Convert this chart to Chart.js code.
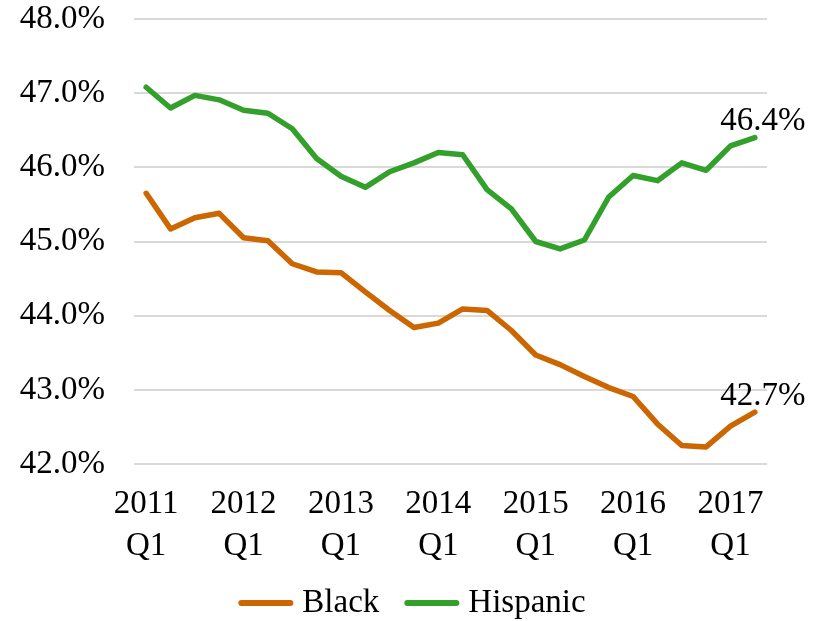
<!DOCTYPE html>
<html lang="en">
<head>
  <meta charset="UTF-8">
  <title>Black and Hispanic share, 2011-2017</title>
  <script src="https://cdn.jsdelivr.net/npm/chart.js"></script>
  <style>
    html, body { margin: 0; padding: 0; background: #ffffff; }
    .chart-box { width: 821px; height: 621px; }
  </style>
</head>
<body>
  <div class="chart-box">
    <canvas id="shareChart"></canvas>
  </div>

  <script>
    // quarterly series, 2011 Q1 through 2017 Q2
    const quarters = [
      '2011 Q1', '2011 Q2', '2011 Q3', '2011 Q4',
      '2012 Q1', '2012 Q2', '2012 Q3', '2012 Q4',
      '2013 Q1', '2013 Q2', '2013 Q3', '2013 Q4',
      '2014 Q1', '2014 Q2', '2014 Q3', '2014 Q4',
      '2015 Q1', '2015 Q2', '2015 Q3', '2015 Q4',
      '2016 Q1', '2016 Q2', '2016 Q3', '2016 Q4',
      '2017 Q1', '2017 Q2'
    ];
    const black = [
      45.65, 45.17, 45.32, 45.38, 45.05, 45.01, 44.70, 44.59, 44.58, 44.32,
      44.07, 43.84, 43.90, 44.09, 44.07, 43.80, 43.47, 43.34, 43.18, 43.03,
      42.91, 42.54, 42.25, 42.23, 42.51, 42.7
    ];
    const hispanic = [
      47.08, 46.80, 46.97, 46.91, 46.77, 46.73, 46.52, 46.12, 45.88, 45.73,
      45.94, 46.06, 46.20, 46.17, 45.70, 45.44, 45.00, 44.90, 45.02, 45.60,
      45.89, 45.82, 46.06, 45.96, 46.29, 46.4
    ];
    const yTicks = [42, 43, 44, 45, 46, 47, 48];

    const serif = '"Liberation Serif", "DejaVu Serif", serif';
    const FONT_SIZE = 33;

    // writes the latest value above the end of each line
    const endLabels = {
      id: 'endLabels',
      afterDatasetsDraw(chart) {
        const ctx = chart.ctx;
        ctx.save();
        ctx.font = FONT_SIZE + 'px ' + serif;
        ctx.fillStyle = '#000000';
        ctx.textAlign = 'center';
        ctx.textBaseline = 'middle';
        chart.data.datasets.forEach((ds, i) => {
          const pts = chart.getDatasetMeta(i).data;
          const last = pts[pts.length - 1];
          const val = ds.data[ds.data.length - 1];
          ctx.fillText(val.toFixed(1) + '%', last.x + 8, last.y - 16);
        });
        ctx.restore();
      }
    };

    // legend row under the axis: short thick line, then the series name
    const lineLegend = {
      id: 'lineLegend',
      afterDraw(chart) {
        const ctx = chart.ctx;
        const sample = 49, gap = 12, itemGap = 28, cy = 603;
        ctx.save();
        ctx.font = FONT_SIZE + 'px ' + serif;
        ctx.textBaseline = 'middle';
        ctx.textAlign = 'left';
        const items = chart.data.datasets.map(ds => ({
          label: ds.label,
          color: ds.borderColor,
          w: sample + gap + ctx.measureText(ds.label).width
        }));
        const total = items.reduce((s, it) => s + it.w, 0) + itemGap * (items.length - 1);
        let x = (chart.width - total) / 2 + 3;
        items.forEach(it => {
          ctx.strokeStyle = it.color;
          ctx.lineWidth = 6;
          ctx.lineCap = 'round';
          ctx.beginPath();
          ctx.moveTo(x, cy);
          ctx.lineTo(x + sample, cy);
          ctx.stroke();
          ctx.fillStyle = '#000000';
          ctx.fillText(it.label, x + sample + gap, cy);
          x += it.w + itemGap;
        });
        ctx.restore();
      }
    };

    const ctx = document.getElementById('shareChart').getContext('2d');
    new Chart(ctx, {
      type: 'line',
      data: {
        labels: quarters,
        datasets: [
          {
            label: 'Black',
            data: black,
            borderColor: '#cc6600',
            backgroundColor: '#cc6600',
            borderWidth: 5.5,
            pointRadius: 0,
            tension: 0,
            borderJoinStyle: 'round',
            borderCapStyle: 'round'
          },
          {
            label: 'Hispanic',
            data: hispanic,
            borderColor: '#33a02c',
            backgroundColor: '#33a02c',
            borderWidth: 5.5,
            pointRadius: 0,
            tension: 0,
            borderJoinStyle: 'round',
            borderCapStyle: 'round'
          }
        ]
      },
      options: {
        responsive: true,
        maintainAspectRatio: false,
        animation: false,
        layout: { padding: { top: 19, right: 54, bottom: 0, left: 0 } },
        plugins: {
          tooltip: { enabled: false },
          legend: { display: false }
        },
        scales: {
          x: {
            offset: true,
            afterFit(scale) { scale.height = 157; },
            grid: { display: false },
            border: { display: false },
            ticks: {
              autoSkip: false,
              maxRotation: 0,
              color: '#000000',
              padding: 11,
              font: { family: serif, size: FONT_SIZE, lineHeight: 1.27 },
              callback(value, index) {
                const parts = quarters[index].split(' ');
                return parts[1] === 'Q1' ? parts : '';
              }
            }
          },
          y: {
            min: 42,
            max: 48,
            afterFit(scale) {
              scale.width = 134;
              scale.paddingTop = 0;
              scale.paddingBottom = 0;
            },
            afterBuildTicks(scale) { scale.ticks = yTicks.map(v => ({ value: v })); },
            grid: { color: '#d9d9d9', lineWidth: 2, drawTicks: false },
            border: { display: false },
            ticks: {
              color: '#000000',
              padding: 29,
              font: { family: serif, size: FONT_SIZE },
              callback: v => v.toFixed(1) + '%'
            }
          }
        }
      },
      plugins: [endLabels, lineLegend]
    });
  </script>
</body>
</html>
